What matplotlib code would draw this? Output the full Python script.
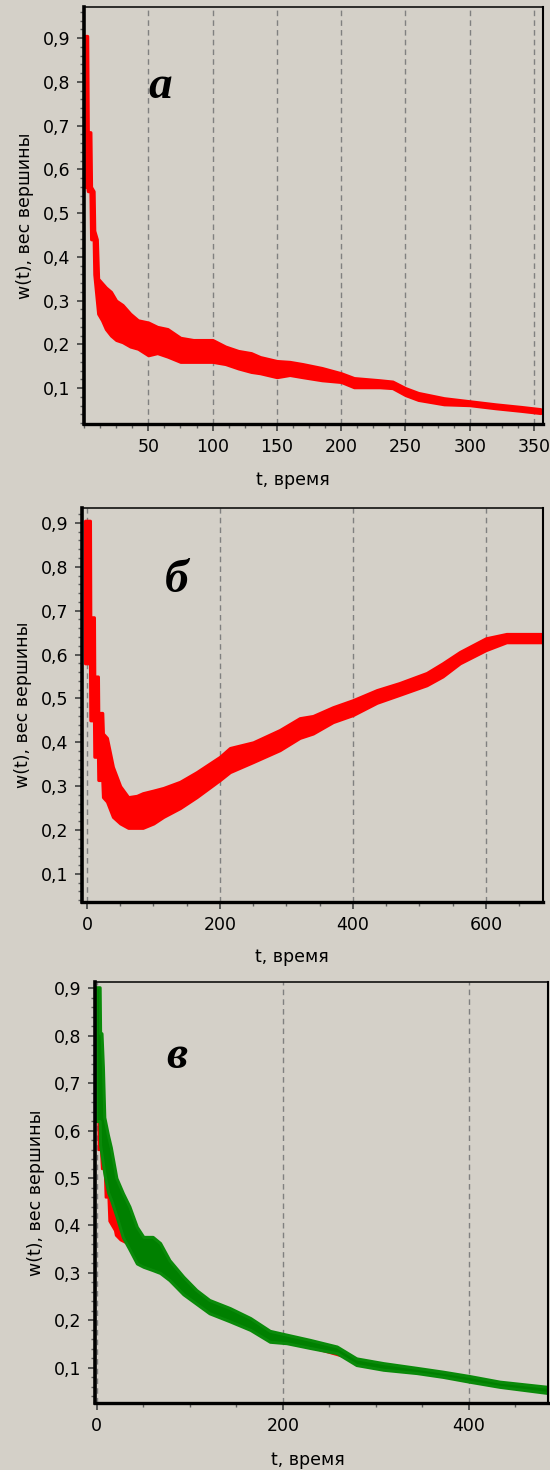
import matplotlib
matplotlib.use("Agg")
import matplotlib.pyplot as plt
from matplotlib.ticker import MultipleLocator

# ---------------- data ----------------
# panel а : band of w(t) (upper / lower envelope)
a_t = [1, 2.5, 3, 5, 5.5, 7.5, 8, 10, 11, 14, 17, 21, 25, 30, 36, 42, 50, 57, 65, 75,
       85, 95, 100, 110, 120, 130, 137, 150, 160, 170, 185, 200, 210, 230, 240, 250,
       260, 280, 300, 320, 340, 355]
a_hi = [0.905, 0.905, 0.685, 0.685, 0.56, 0.55, 0.46, 0.44, 0.35, 0.34, 0.33, 0.32, 0.30,
        0.29, 0.27, 0.255, 0.25, 0.24, 0.235, 0.215, 0.21, 0.21, 0.21, 0.195, 0.185, 0.18,
        0.171, 0.162, 0.16, 0.155, 0.146, 0.134, 0.123, 0.118, 0.115, 0.10, 0.089, 0.077,
        0.070, 0.063, 0.057, 0.052]
a_lo = [0.56, 0.56, 0.55, 0.55, 0.44, 0.44, 0.36, 0.30, 0.27, 0.255, 0.235, 0.22, 0.21,
        0.205, 0.195, 0.19, 0.175, 0.18, 0.172, 0.16, 0.16, 0.16, 0.16, 0.155, 0.145, 0.137,
        0.134, 0.125, 0.13, 0.125, 0.118, 0.114, 0.102, 0.102, 0.10, 0.084, 0.073, 0.063,
        0.061, 0.054, 0.048, 0.043]

# panel б
b_t = [-3, 4.5, 5, 10.5, 11, 16.5, 17, 23, 24, 30, 39, 50, 62, 75, 84, 100, 115, 140,
       165, 200, 215, 250, 290, 320, 340, 370, 400, 436, 470, 511, 535, 561, 600, 631,
       660, 690]
b_hi = [0.905, 0.905, 0.685, 0.685, 0.55, 0.55, 0.467, 0.467, 0.42, 0.41, 0.344, 0.30,
        0.275, 0.278, 0.284, 0.29, 0.296, 0.31, 0.332, 0.367, 0.387, 0.40, 0.428, 0.455,
        0.46, 0.48, 0.496, 0.519, 0.535, 0.558, 0.58, 0.606, 0.637, 0.647, 0.647, 0.647]
b_lo = [0.58, 0.58, 0.45, 0.45, 0.367, 0.367, 0.314, 0.314, 0.275, 0.265, 0.23, 0.215,
        0.205, 0.205, 0.205, 0.215, 0.23, 0.25, 0.275, 0.314, 0.332, 0.355, 0.382, 0.41,
        0.42, 0.446, 0.462, 0.49, 0.508, 0.53, 0.55, 0.58, 0.61, 0.628, 0.628, 0.628]

# panel в : red series (mostly hidden) and green series
cr_t = [-2, 1, 1.5, 4, 5, 8, 9, 12, 13, 19, 20, 25, 35, 50, 80, 120, 200, 300, 400, 485]
cr_hi = [0.80, 0.80, 0.63, 0.63, 0.60, 0.60, 0.52, 0.50, 0.48, 0.46, 0.44, 0.42, 0.40,
         0.36, 0.31, 0.235, 0.165, 0.108, 0.079, 0.055]
cr_lo = [0.70, 0.70, 0.56, 0.56, 0.52, 0.52, 0.46, 0.46, 0.41, 0.39, 0.38, 0.37, 0.36,
         0.325, 0.295, 0.23, 0.16, 0.105, 0.076, 0.052]

cg_t = [-1, 3, 3.5, 5, 6.5, 8, 12, 15, 21, 28, 35, 43, 50, 60, 68, 78, 93, 107, 121, 143,
        165, 186, 204, 229, 258, 279, 308, 344, 372, 400, 433, 485]
cg_hi = [0.902, 0.902, 0.805, 0.805, 0.734, 0.628, 0.59, 0.565, 0.50, 0.468, 0.44, 0.397,
         0.376, 0.376, 0.363, 0.327, 0.292, 0.264, 0.243, 0.226, 0.205, 0.178, 0.17, 0.159,
         0.145, 0.12, 0.11, 0.10, 0.092, 0.083, 0.071, 0.06]
cg_lo = [0.62, 0.62, 0.57, 0.55, 0.53, 0.51, 0.47, 0.455, 0.42, 0.375, 0.35, 0.32, 0.313,
         0.306, 0.30, 0.285, 0.255, 0.235, 0.215, 0.198, 0.18, 0.155, 0.152, 0.142, 0.131,
         0.106, 0.096, 0.089, 0.081, 0.071, 0.06, 0.047]

y_ticks = [0.1, 0.2, 0.3, 0.4, 0.5, 0.6, 0.7, 0.8, 0.9]
y_labels = ["0,1", "0,2", "0,3", "0,4", "0,5", "0,6", "0,7", "0,8", "0,9"]
a_xticks = [50, 100, 150, 200, 250, 300, 350]
b_xticks = [0, 200, 400, 600]
c_xticks = [0, 200, 400]
panel_letters = ["а", "б", "в"]
x_label = "t, время"
y_label = "w(t), вес вершины"

# ---------------- figure ----------------
W, H = 550, 1470
BG = "#d4d0c8"
fig = plt.figure(figsize=(W / 100, H / 100), dpi=100, facecolor=BG)
plt.rcParams["font.family"] = ["DejaVu Sans"]


def make_axes(l, r, t, b):
    return fig.add_axes([l / W, 1 - b / H, (r - l) / W, (b - t) / H])


def style(ax, xlim, ylim, xticks, xminor, xlabel_pos):
    ax.set_facecolor(BG)
    ax.set_xlim(*xlim)
    ax.set_ylim(*ylim)
    ax.set_yticks(y_ticks)
    ax.set_yticklabels(y_labels)
    ax.yaxis.set_minor_locator(MultipleLocator(0.02))
    ax.set_xticks(xticks)
    ax.set_xticklabels([str(v) for v in xticks])
    ax.xaxis.set_minor_locator(MultipleLocator(xminor))
    ax.tick_params(which="major", length=5, width=1.2, color="#404040",
                   labelsize=12.5, pad=5)
    ax.tick_params(which="minor", length=3, width=1.0, color="#606060")
    ax.grid(axis="x", which="major", linestyle=(0, (4, 3)), color="#808080", lw=1.0)
    ax.set_axisbelow(True)
    for s, w in (("left", 2.6), ("bottom", 2.4), ("top", 1.1), ("right", 1.5)):
        ax.spines[s].set_linewidth(w)
        ax.spines[s].set_color("black")
    ax.set_xlabel(x_label, fontsize=12.5)
    ax.set_ylabel(y_label, fontsize=12.5, labelpad=6)
    ax.xaxis.set_label_coords(*xlabel_pos)


RED = "#ff0000"
GREEN = "#008000"

# panel а
ax1 = make_axes(84, 543, 7, 424)
ax1.fill_between(a_t, a_lo, a_hi, facecolor=RED, edgecolor=RED, lw=2.2)
style(ax1, (0, 357), (0.018, 0.971), a_xticks, 12.5, (0.455, -0.112))

# panel б
ax2 = make_axes(82, 543, 508, 902)
ax2.fill_between(b_t, b_lo, b_hi, facecolor=RED, edgecolor=RED, lw=2.2)
style(ax2, (-7.5, 686), (0.036, 0.934), b_xticks, 50, (0.455, -0.118))

# panel в
ax3 = make_axes(95, 548, 982, 1403)
ax3.fill_between(cr_t, cr_lo, cr_hi, facecolor=RED, edgecolor=RED, lw=1.6)
ax3.fill_between(cg_t, cg_lo, cg_hi, facecolor=GREEN, edgecolor="#0a8a0a", lw=2.2)
style(ax3, (-2, 485), (0.026, 0.913), c_xticks, 50, (0.47, -0.115))

# panel letters
for letter, (px, py) in zip(panel_letters, [(160, 98), (177, 592), (177, 1068)]):
    fig.text(px / W, 1 - py / H, letter, ha="center", va="baseline",
             fontsize=34, fontweight="bold", fontstyle="italic",
             family=["Liberation Serif", "DejaVu Serif"])

fig.savefig("out.png", dpi=100, facecolor=BG)
